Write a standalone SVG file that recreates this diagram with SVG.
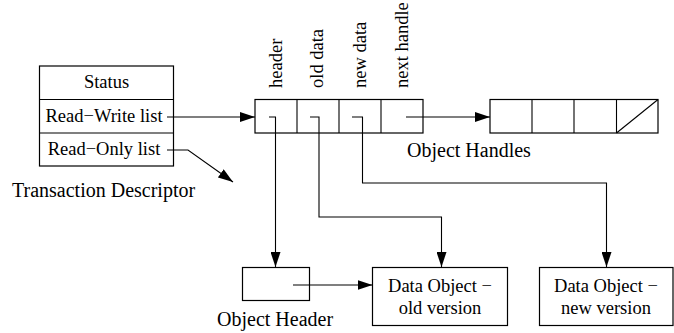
<svg xmlns="http://www.w3.org/2000/svg" width="674" height="333" viewBox="0 0 674 333">
<defs>
<marker id="ah" markerUnits="userSpaceOnUse" viewBox="0 0 15 10" markerWidth="15" markerHeight="10" refX="15" refY="5" orient="auto">
<path d="M0,0 L15,5 L0,10 z" fill="#000"/>
</marker>
<style>
.box{fill:#fff;stroke:#000;stroke-width:1.2}
.ln{fill:none;stroke:#000;stroke-width:1.1}
.t{font-family:"Liberation Serif","Times New Roman",serif;font-size:18.5px;fill:#000}
.c{font-family:"Liberation Serif","Times New Roman",serif;font-size:20px;fill:#000}
.m{text-anchor:middle}
</style>
</defs>
<rect width="674" height="333" fill="#fff"/>
<g id="transaction-descriptor">
<rect class="box" x="39.5" y="66" width="134" height="100"/>
<line class="ln" x1="39.5" y1="99.5" x2="173.5" y2="99.5"/>
<line class="ln" x1="39.5" y1="133" x2="173.5" y2="133"/>
<text class="t m" x="106.5" y="88">Status</text>
<text class="t m" x="104" y="122">Read−Write list</text>
<text class="t m" x="104" y="155">Read−Only list</text>
<text class="c" x="12" y="197">Transaction Descriptor</text>
</g>
<g id="object-handle">
<rect class="box" x="255" y="99.5" width="168" height="33.5"/>
<line class="ln" x1="297" y1="99.5" x2="297" y2="133"/>
<line class="ln" x1="339" y1="99.5" x2="339" y2="133"/>
<line class="ln" x1="381" y1="99.5" x2="381" y2="133"/>
<text class="t" transform="translate(281.5,88) rotate(-90)">header</text>
<text class="t" transform="translate(323,88) rotate(-90)">old data</text>
<text class="t" transform="translate(366,88) rotate(-90)">new data</text>
<text class="t" transform="translate(408,88) rotate(-90)">next handle</text>
<text class="c" x="407" y="157">Object Handles</text>
</g>
<g id="next-object-handle">
<rect class="box" x="490" y="99.5" width="168" height="33.5"/>
<line class="ln" x1="532" y1="99.5" x2="532" y2="133"/>
<line class="ln" x1="574" y1="99.5" x2="574" y2="133"/>
<line class="ln" x1="616.5" y1="99.5" x2="616.5" y2="133"/>
<line class="ln" x1="616.5" y1="133" x2="658" y2="99.5"/>
</g>
<g id="object-header">
<rect class="box" x="242.5" y="267.5" width="67" height="33"/>
<text class="c" x="217" y="326">Object Header</text>
</g>
<g id="data-object-old">
<rect class="box" x="372.5" y="267.5" width="135" height="58"/>
<text class="t m" x="440" y="292">Data Object −</text>
<text class="t m" x="440" y="313.5">old version</text>
</g>
<g id="data-object-new">
<rect class="box" x="539.5" y="267.5" width="133.5" height="58"/>
<text class="t m" x="606" y="292">Data Object −</text>
<text class="t m" x="606" y="313.5">new version</text>
</g>
<g id="connectors">
<polyline class="ln" points="167,117 255,117" marker-end="url(#ah)"/>
<polyline class="ln" points="167,150 188,150 233,182" marker-end="url(#ah)"/>
<polyline class="ln" points="269,117 275.5,117 275.5,267" marker-end="url(#ah)"/>
<polyline class="ln" points="310,117 319,117 319,217 441.5,217 441.5,267" marker-end="url(#ah)"/>
<polyline class="ln" points="352,117 362.5,117 362.5,183 606.5,183 606.5,267" marker-end="url(#ah)"/>
<polyline class="ln" points="406,117 490,117" marker-end="url(#ah)"/>
<polyline class="ln" points="293,285 372.5,285" marker-end="url(#ah)"/>
</g>
</svg>
